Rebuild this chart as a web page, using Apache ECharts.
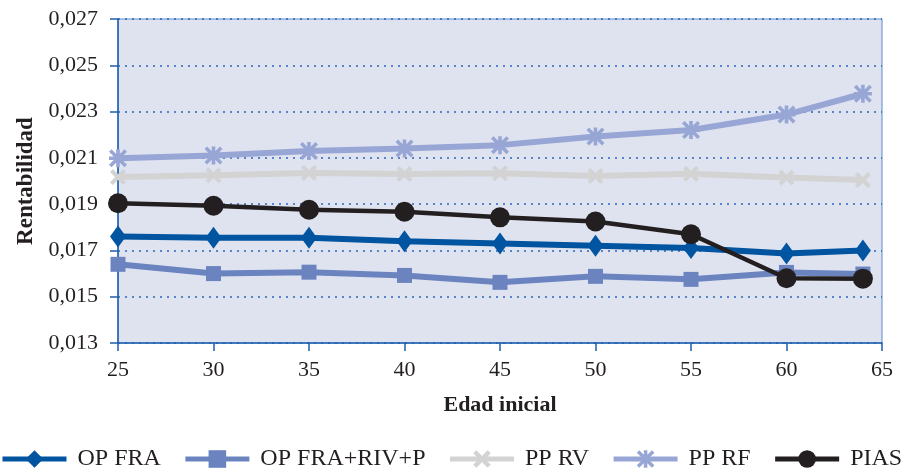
<!DOCTYPE html>
<html>
<head>
<meta charset="utf-8">
<script src="https://cdn.jsdelivr.net/npm/echarts@6/dist/echarts.min.js"></script>
<style>html,body{margin:0;padding:0;background:#fff}#c{width:918px;height:469px}</style>
</head>
<body>
<div id="c"></div>
<script>
const ages = [25, 30, 35, 40, 45, 50, 55, 60, 64];
const seriesNames = ['OP FRA', 'OP FRA+RIV+P', 'PP RV', 'PP RF', 'PIAS'];
const opFra = [0.0176, 0.01755, 0.01755, 0.0174, 0.0173, 0.0172, 0.0171, 0.01687, 0.0170];
const opFraRivP = [0.0164, 0.0160, 0.01606, 0.01592, 0.01562, 0.01588, 0.01575, 0.01605, 0.01598];
const ppRv = [0.02017, 0.02025, 0.02035, 0.0203, 0.02034, 0.02022, 0.02031, 0.02015, 0.02004];
const ppRf = [0.02098, 0.0211, 0.0213, 0.0214, 0.02155, 0.02192, 0.0222, 0.02287, 0.02377];
const pias = [0.01904, 0.01893, 0.01876, 0.01867, 0.01843, 0.01825, 0.0177, 0.0158, 0.01578];
const yMin = 0.013, yMax = 0.027, yStep = 0.002;
const xMin = 25, xMax = 65, xStep = 5;

const FONT = 'Liberation Serif';
const TXT = '#231f20';
const asterisk = 'path://M40,0L60,0L60,100L40,100Z M0,40L100,40L100,60L0,60Z M14,0L100,86L86,100L0,14Z M86,0L100,14L14,100L0,86Z';
const xcross = 'path://M18,0L100,82L82,100L0,18Z M82,0L100,18L18,100L0,82Z';

function pairs(vals) { return ages.map((a, i) => [a, vals[i]]); }

const styles = [
  {color: '#0054a0', symbol: 'diamond', size: [16, 22], width: 6},
  {color: '#6b84c0', symbol: 'rect', size: 15, width: 6},
  {color: '#d3d3d3', symbol: xcross, size: 16, width: 6},
  {color: '#98a6d5', symbol: asterisk, size: 18, width: 6},
  {color: '#231f20', symbol: 'circle', size: 20, width: 4.5}
];
const data = [opFra, opFraRivP, ppRv, ppRf, pias];

const chart = echarts.init(document.getElementById('c'));
chart.setOption({
  animation: false,
  textStyle: {fontFamily: FONT},
  grid: {left: 118, right: 36, top: 19, bottom: 126, show: true,
         backgroundColor: '#dfe3f0', borderColor: '#5d8ccb', borderWidth: 1},
  legend: {
    left: 0, top: 447, width: 918, padding: 0,
    itemWidth: 64, itemHeight: 22, itemGap: 22,
    data: seriesNames,
    lineStyle: {width: 5},
    textStyle: {fontFamily: FONT, fontSize: 24, color: TXT, padding: [0, 0, 0, 6]}
  },
  xAxis: {
    type: 'value', min: xMin, max: xMax, interval: xStep,
    name: 'Edad inicial', nameLocation: 'middle', nameGap: 51,
    nameTextStyle: {fontFamily: FONT, fontSize: 22, fontWeight: 'bold', color: TXT},
    axisLine: {lineStyle: {color: '#1f5fae', width: 1.5}},
    axisTick: {show: true, length: 8, lineStyle: {color: '#1f5fae', width: 1.5}},
    axisLabel: {fontFamily: FONT, fontSize: 22, color: TXT, margin: 16},
    splitLine: {show: false}
  },
  yAxis: {
    type: 'value', min: yMin, max: yMax, interval: yStep,
    name: 'Rentabilidad', nameLocation: 'middle', nameGap: 80, nameRotate: 90,
    nameTextStyle: {fontFamily: FONT, fontSize: 23, fontWeight: 'bold', color: TXT},
    axisLine: {show: true, lineStyle: {color: '#1f5fae', width: 1.5}},
    axisTick: {show: true, length: 8, lineStyle: {color: '#1f5fae', width: 1.5}},
    axisLabel: {fontFamily: FONT, fontSize: 22, color: TXT, margin: 20,
      formatter: v => v.toFixed(3).replace('.', ',')},
    splitLine: {show: true, lineStyle: {color: '#2a65b5', type: [2, 5], width: 1.5}}
  },
  series: seriesNames.map((n, i) => ({
    name: n, type: 'line', data: pairs(data[i]),
    symbol: styles[i].symbol, symbolSize: styles[i].size, showSymbol: true,
    itemStyle: {color: styles[i].color, opacity: 1},
    lineStyle: {color: styles[i].color, width: styles[i].width},
    z: 2 + i
  }))
});
</script>
</body>
</html>
